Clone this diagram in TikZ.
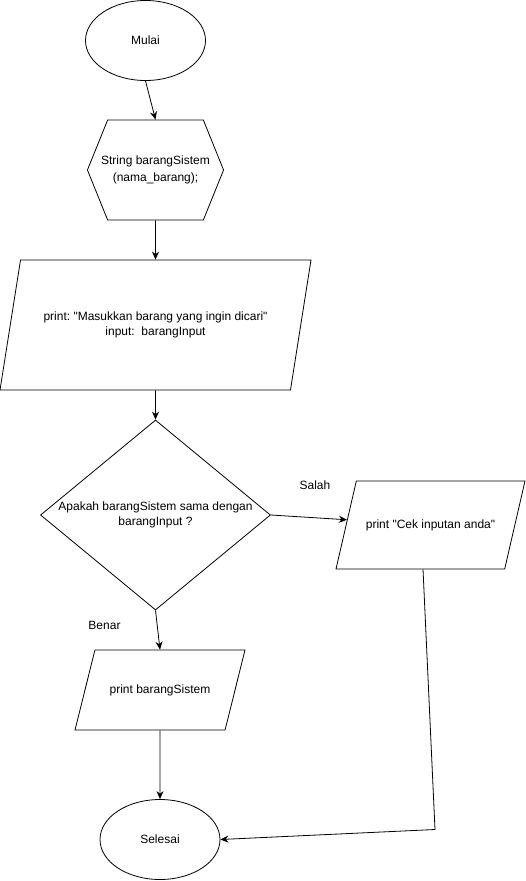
\documentclass[tikz,border=0pt]{standalone}
\usepackage{fontspec}
\setmainfont{Liberation Sans}[Ligatures=TeXOff]
\usetikzlibrary{shapes.geometric, shapes.symbols, arrows.meta}
\usetikzlibrary{positioning}
\tikzstyle{startstop} 		= [ellipse, minimum width=120pt, minimum height=80pt, align=center, draw=black]
\tikzstyle{process}   		= [signal, signal to=west and east, signal pointer angle=136, inner xsep=-6.5pt, minimum height=100pt, align=center, draw=black]
\tikzstyle{io} 				= [trapezium, trapezium stretches body=true, align=center, draw=black]
\tikzstyle{decision} 		= [diamond, aspect=1.21, inner sep=0pt, minimum width=230pt, minimum height=190pt, align=center, draw=black]
\tikzstyle{branch} 			= [align=center]
\tikzstyle{arrow} = [-{Stealth[length=8pt,width=7pt]}]

\begin{document}
\begin{tikzpicture}[node distance=2cm, thick, font=\fontsize{12}{14.4}\selectfont\frenchspacing]
				\useasboundingbox (0,0) rectangle (526pt,-881pt);
				\node (start) [startstop] at (145.5pt,-40.5pt) {Mulai};
				\node (decl) [process, node distance=129.5pt, below of=start, xshift=10pt] {String barangSistem\\[3pt](nama\_barang);};
				\node (input) [io, node distance=155pt, below of=decl, trapezium left angle=81, trapezium right angle=99, inner ysep=52pt, minimum width=311pt, minimum height=130pt] {print: "Masukkan barang yang ingin dicari"\\input:\ \ barangInput};
				\node (check) [decision, node distance=190pt, below of=input] {Apakah barangSistem sama dengan\\barangInput ?};
				\node (right) [io, node distance=175pt, below of=check, xshift=4.5pt, trapezium left angle=76, trapezium right angle=104, inner ysep=34.4pt, minimum width=170pt, minimum height=80pt] {print barangSistem};
				\node (stop) [startstop, node distance=149.5pt, below of=right] {Selesai};
				\node (wrong) [io, node distance=275pt, right of=check, yshift=-10pt, trapezium left angle=77, trapezium right angle=103, inner ysep=38.4pt, minimum width=189pt, minimum height=88pt] {print "Cek inputan anda"};
				\node (salah) [branch, node distance=159.5pt, right of=check, yshift=30pt] {Salah};
				\node (benar) [branch, node distance=110pt, below of=check, xshift=-51pt] {Benar};
				\coordinate [node distance=275pt, right of=stop, yshift=10pt] (corner);
				
				\draw [arrow] (start.south) -- (decl.north);
				\draw [arrow] (decl) -- (input);
				\draw [arrow] (input) -- (check);
				\draw [arrow] (check.east) -- (wrong);
				\draw [arrow] (check.south) -- (right.north);
				\draw [arrow] (right) -- (stop);
				\draw [arrow] ([xshift=-7.5pt]wrong.south) -- (corner) -- (stop.east);
\end{tikzpicture}
\end{document}
